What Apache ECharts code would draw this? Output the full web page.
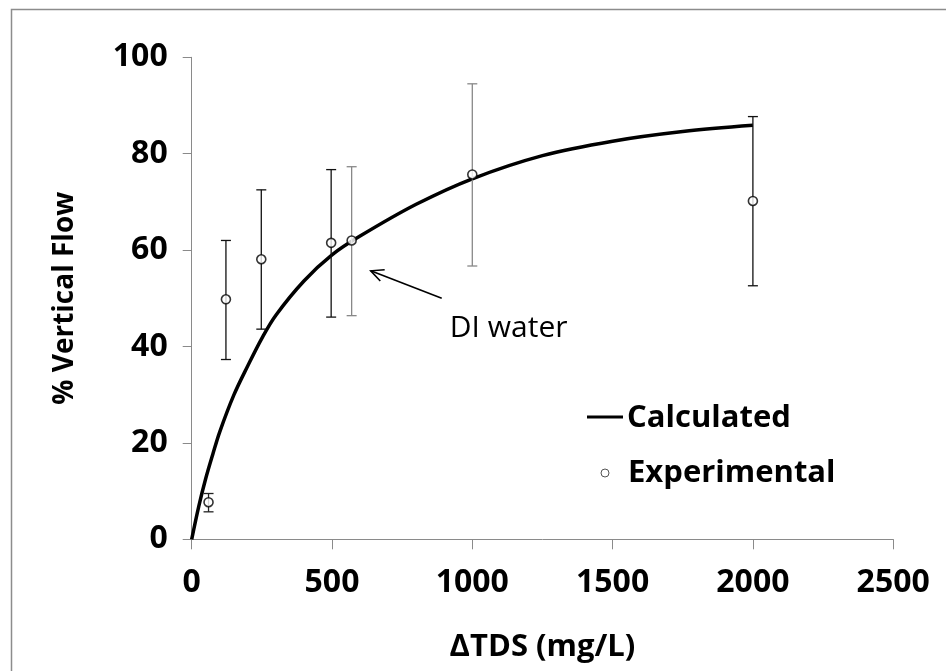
<!DOCTYPE html>
<html><head><meta charset="utf-8">
<script src="https://cdn.jsdelivr.net/npm/echarts@6/dist/echarts.min.js"></script>
<style>html,body{margin:0;padding:0;background:#fff}#c{width:946px;height:671px}</style>
</head><body><div id="c"></div>
<script>
// ---- data ----
const xTicks = [0, 500, 1000, 1500, 2000, 2500];
const yTicks = [0, 20, 40, 60, 80, 100];
const calcX = [0, 25, 50, 75, 100, 150, 200, 250, 300, 400, 500, 600, 800, 1000, 1250, 1500, 1750, 2000];
const calcY = [0, 6.8, 12.6, 17.6, 22.3, 29.9, 36.0, 41.7, 46.5, 53.6, 59.0, 62.9, 69.5, 74.8, 79.6, 82.6, 84.6, 85.9];
const expX = [60, 122, 248, 497, 570, 1000, 2000];
const expY = [7.7, 49.8, 58.1, 61.5, 62.0, 75.7, 70.2];
const errLow = [5.7, 37.3, 43.6, 46.1, 46.4, 56.7, 52.6];
const errHigh = [9.5, 62.0, 72.5, 76.7, 77.3, 94.5, 87.7];
const seriesNames = ['Calculated', 'Experimental'];
const annotText = 'DI water';
const arrowTip = [638, 55.7];
const arrowTail = [891, 50.0];
const annotPos = [920, 43.8];

// ---- styles ----
const errColors = ['#222', '#111', '#111', '#111', '#888', '#888', '#111'];
const FONT = '"Open Sans", "Noto Sans", sans-serif';

const chart = echarts.init(document.getElementById('c'), null, {renderer: 'canvas'});
const option = {
  animation: false,
  backgroundColor: '#fff',
  grid: {left: 191.7, right: 52.8, top: 57.3, bottom: 131.7, containLabel: false},
  xAxis: {
    type: 'value', min: xTicks[0], max: xTicks[xTicks.length - 1], interval: xTicks[1] - xTicks[0],
    name: 'ΔTDS (mg/L)', nameLocation: 'middle', nameGap: 92,
    nameTextStyle: {fontFamily: FONT, fontWeight: 'bold', fontSize: 31, color: '#000'},
    axisLine: {show: true, lineStyle: {color: '#8a8a8a', width: 1}},
    axisTick: {show: true, length: 10, lineStyle: {color: '#8a8a8a', width: 1}},
    splitLine: {show: false},
    axisLabel: {fontFamily: FONT, fontWeight: 'bold', fontSize: 32, color: '#000', margin: 28,
      formatter: v => String(v)}
  },
  yAxis: {
    type: 'value', min: yTicks[0], max: yTicks[yTicks.length - 1], interval: yTicks[1] - yTicks[0],
    name: '% Vertical Flow', nameLocation: 'middle', nameGap: 113, nameRotate: 90,
    nameTextStyle: {fontFamily: FONT, fontWeight: 'bold', fontSize: 28, color: '#000'},
    axisLine: {show: true, lineStyle: {color: '#8a8a8a', width: 1}},
    axisTick: {show: true, length: 9, lineStyle: {color: '#8a8a8a', width: 1}},
    splitLine: {show: false},
    axisLabel: {fontFamily: FONT, fontWeight: 'bold', fontSize: 32, color: '#000', margin: 24,
      formatter: v => String(v)}
  },
  series: [
    {
      name: seriesNames[0], type: 'line', smooth: 0.35, showSymbol: false, z: 2,
      data: calcX.map((x, i) => [x, calcY[i]]),
      lineStyle: {color: '#000', width: 3.5}
    },
    {
      name: seriesNames[1] + '_err', type: 'custom', z: 3,
      data: expX.map((x, i) => [x, errLow[i], errHigh[i], i]),
      encode: {x: 0, y: [1, 2]},
      renderItem: function (params, api) {
        const lo = api.coord([api.value(0), api.value(1)]);
        const hi = api.coord([api.value(0), api.value(2)]);
        const col = errColors[api.value(3)];
        const w = 5;
        const st = {stroke: col, lineWidth: 1.3};
        return {type: 'group', children: [
          {type: 'line', shape: {x1: lo[0], y1: lo[1], x2: hi[0], y2: hi[1]}, style: st},
          {type: 'line', shape: {x1: lo[0] - w, y1: lo[1], x2: lo[0] + w, y2: lo[1]}, style: st},
          {type: 'line', shape: {x1: hi[0] - w, y1: hi[1], x2: hi[0] + w, y2: hi[1]}, style: st}
        ]};
      }
    },
    {
      name: seriesNames[1], type: 'scatter', z: 4, symbol: 'circle', symbolSize: 9,
      data: expX.map((x, i) => [x, expY[i]]),
      itemStyle: {color: '#fff', borderColor: '#000', borderWidth: 1.6}
    }
  ]
};
chart.setOption(option);

const tip = chart.convertToPixel({gridIndex: 0}, arrowTip);
const tail = chart.convertToPixel({gridIndex: 0}, arrowTail);
const tpos = chart.convertToPixel({gridIndex: 0}, annotPos);
const ang = Math.atan2(tail[1] - tip[1], tail[0] - tip[0]);
const hl = 14, ha = 0.45;
const h1 = [tip[0] + hl * Math.cos(ang + ha), tip[1] + hl * Math.sin(ang + ha)];
const h2 = [tip[0] + hl * Math.cos(ang - ha), tip[1] + hl * Math.sin(ang - ha)];

chart.setOption({
  graphic: [
    {type: 'rect', left: 9, top: 7, z: -10, silent: true,
     shape: {x: 0, y: 0, width: 1000, height: 700},
     style: {fill: 'none', stroke: '#8c8c8c', lineWidth: 1.5}},
    {type: 'line', shape: {x1: tip[0], y1: tip[1], x2: tail[0], y2: tail[1]}, style: {stroke: '#000', lineWidth: 1.6}},
    {type: 'polyline', shape: {points: [h1, tip, h2]}, style: {stroke: '#000', lineWidth: 1.6, fill: null}},
    {type: 'text', x: tpos[0], y: tpos[1], style: {text: annotText, font: '30px "Open Sans", "Noto Sans", sans-serif', fill: '#000', textVerticalAlign: 'middle', textAlign: 'left'}},
    // legend
    {type: 'line', shape: {x1: 587, y1: 417, x2: 623, y2: 417}, style: {stroke: '#000', lineWidth: 3}},
    {type: 'text', x: 627, y: 418, style: {text: seriesNames[0], font: 'bold 31px "Open Sans", "Noto Sans", sans-serif', fill: '#000', textVerticalAlign: 'middle', textAlign: 'left'}},
    {type: 'circle', shape: {cx: 605, cy: 473, r: 4}, style: {fill: '#fff', stroke: '#555', lineWidth: 1}},
    {type: 'text', x: 628, y: 473, style: {text: seriesNames[1], font: 'bold 31px "Open Sans", "Noto Sans", sans-serif', fill: '#000', textVerticalAlign: 'middle', textAlign: 'left'}}
  ]
});
</script>
</body></html>
